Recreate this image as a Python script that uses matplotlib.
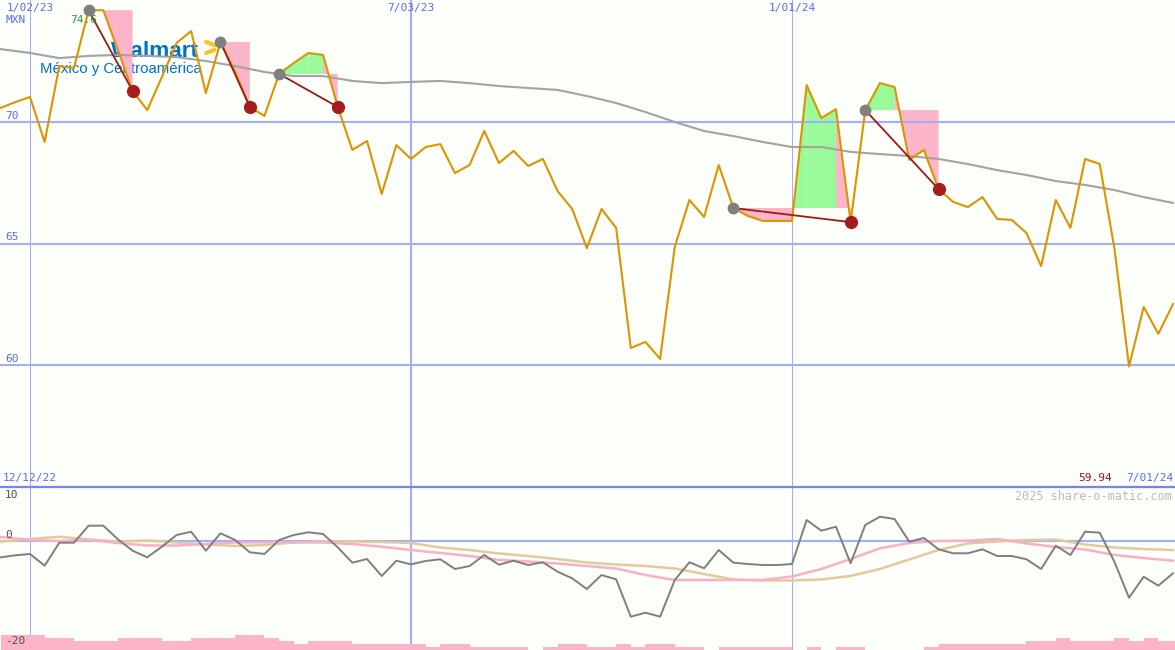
import matplotlib

matplotlib.use("Agg")

import matplotlib.dates as mdates  # noqa: E402
import matplotlib.pyplot as plt  # noqa: E402
import matplotlib.transforms as mtransforms  # noqa: E402
import numpy as np  # noqa: E402
import pandas as pd  # noqa: E402
from matplotlib.lines import Line2D  # noqa: E402

# weekly closes, 12/19/22 .. 7/01/24 (MXN)
dates = pd.date_range("2022-12-19", periods=81, freq="7D")
price = [
    70.58, 70.82, 71.03, 69.18, 72.30, 72.22, 74.60, 74.60, 72.96, 71.28,
    70.49, 71.85, 73.25, 73.74, 71.19, 73.29, 72.06, 70.62, 70.25, 71.98,
    72.43, 72.84, 72.76, 70.62, 68.85, 69.22, 67.04, 69.05, 68.48, 68.97,
    69.09, 67.90, 68.23, 69.63, 68.31, 68.81, 68.19, 68.48, 67.16, 66.42,
    64.81, 66.42, 65.64, 60.70, 60.95, 60.25, 64.86, 66.79, 66.09, 68.23,
    66.46, 66.13, 65.93, 65.93, 65.93, 71.52, 70.16, 70.53, 65.88, 70.49,
    71.60, 71.44, 68.44, 68.85, 67.24, 66.71, 66.50, 66.91, 66.01, 65.97,
    65.43, 64.07, 66.79, 65.64, 68.48, 68.27, 64.81, 59.94, 62.39, 61.28,
    62.51,
]
# long moving average, every second week
ma = [
    73.00, 72.84, 72.63, 72.72, 72.76, 72.72, 72.67, 72.51, 72.30, 72.06,
    71.89, 71.89, 71.69, 71.60, 71.65, 71.69, 71.60, 71.48, 71.40, 71.32,
    71.07, 70.78, 70.41, 70.00, 69.63, 69.42, 69.18, 68.97, 68.97, 68.77,
    68.68, 68.60, 68.48, 68.27, 68.02, 67.82, 67.57, 67.41, 67.20, 66.91,
    66.67,
]
# (buy index, sell index) into price
trades = [(6, 9), (15, 17), (19, 23), (50, 58), (59, 64)]

# lower panel: oscillator (weekly) and two smoothed lines (every second week)
osc = [
    -3.08, -2.70, -2.45, -4.66, -0.32, -0.32, 2.89, 2.89, 0.32, -1.83,
    -3.08, -1.08, 1.13, 1.75, -1.83, 1.45, 0.19, -2.13, -2.45, 0.19,
    1.13, 1.64, 1.32, -1.19, -4.09, -3.40, -6.60, -3.72, -4.40, -3.77,
    -3.45, -5.28, -4.72, -2.64, -4.47, -3.72, -4.53, -4.02, -5.79, -7.04,
    -9.06, -6.42, -7.23, -14.28, -13.53, -14.28, -7.36, -4.02, -5.15, -1.70,
    -4.09, -4.34, -4.53, -4.53, -4.34, 3.96, 1.94, 2.70, -4.21, 3.02,
    4.58, 4.15, -0.13, 0.57, -1.57, -2.32, -2.32, -1.57, -2.83, -2.83,
    -3.45, -5.28, -0.89, -2.64, 1.75, 1.57, -3.91, -10.70, -6.74, -8.43,
    -6.09,
]
osc_pink = [
    0.75, 0.19, 0.00, 0.19, -0.38, -0.85, -0.85, -0.57, -0.28, -0.25,
    -0.25, -0.28, -0.57, -1.08, -1.70, -2.26, -2.83, -3.58, -3.87, -4.25,
    -4.72, -5.19, -6.42, -7.36, -7.36, -7.36, -7.36, -6.70, -5.28, -3.40,
    -1.38, -0.38, 0.00, 0.06, 0.38, -0.45, -1.13, -1.60, -2.64, -3.21,
    -3.72,
]
osc_tan = [
    -0.13, 0.38, 0.81, 0.28, -0.09, 0.09, -0.28, -0.66, -0.94, -0.75,
    -0.28, -0.09, -0.09, -0.19, -0.38, -1.23, -1.70, -2.36, -2.83, -3.40,
    -4.06, -4.43, -4.72, -5.19, -6.23, -7.26, -7.45, -7.45, -7.26, -6.60,
    -5.28, -3.49, -1.70, -0.47, -0.09, 0.19, 0.28, -0.66, -1.23, -1.51,
    -1.70,
]
# relative weekly volume (0..5)
vol_level = [
    5, 5, 5, 4, 4, 3, 3, 3, 4, 4, 4, 3, 3, 4, 4, 4, 5, 5, 4, 3,
    2, 3, 3, 3, 2, 2, 2, 2, 2, 1, 2, 2, 1, 1, 1, 1, 0, 1, 2, 2,
    1, 1, 2, 1, 2, 2, 1, 1, 0, 1, 1, 1, 1, 1, 0, 1, 0, 1, 1, 0,
    0, 0, 0, 1, 2, 2, 2, 2, 2, 2, 3, 3, 4, 3, 3, 3, 4, 3, 4, 3,
    3,
]

grid_dates = ["2023-01-02", "2023-07-03", "2024-01-01"]
grid_labels = ["1/02/23", "7/03/23", "1/01/24"]
grid_widths = [0.75, 1.5, 0.75]
price_ticks = [60, 65, 70]
osc_labels = [("10", 495), ("0", 535), ("-20", 641)]

W, H = 1175, 650
BG = "#fcfefa"
GRID = "#a3aff5"
PINK = "#fbb4c8"
GREEN = "#98fb98"
BLUE_TXT = "#5a6cf0"
MONO = "DejaVu Sans Mono"

x = mdates.date2num(dates.to_pydatetime())
x_ma = x[::2]
x0 = mdates.date2num(pd.Timestamp("2023-01-02").to_pydatetime())
px_per_day = 381 / 182
xlim = (x0 - 30 / px_per_day, x0 + (W - 30) / px_per_day)

fig = plt.figure(figsize=(W / 100, H / 100), dpi=100, facecolor=BG)
ax = fig.add_axes([0, 163 / H, 1, 487 / H])
ax2 = fig.add_axes([0, 0, 1, 162 / H])
for a in (ax, ax2):
    a.set_axis_off()
    a.set_xlim(*xlim)
ax.set_ylim(70 - 365 / 24.3, 70 + 122 / 24.3)
ax2.set_ylim(-109 / 5.3, 53 / 5.3)


def main_xy(px, py):
    return px / W, 1 - py / 487


def low_xy(px, py):
    return px / W, (H - py) / 162


# logo behind everything (only the left half of the spark shows)
ax.text(*main_xy(111, 57), "Walmart", transform=ax.transAxes, family="Liberation Sans",
        fontweight="bold", fontsize=16.2, color="#0071ce", va="baseline", zorder=1)
ax.text(*main_xy(40, 73), "México y Centroamérica", transform=ax.transAxes,
        family="Liberation Sans", fontsize=10.8, color="#0071ce", va="baseline", zorder=1)
cx, cy = 220, 47.5
for ang in np.deg2rad([158, 202]):
    p1 = main_xy(cx + 6 * np.cos(ang), cy - 6 * np.sin(ang))
    p2 = main_xy(cx + 15 * np.cos(ang), cy - 15 * np.sin(ang))
    ax.plot([p1[0], p2[0]], [p1[1], p2[1]], transform=ax.transAxes, color="#ffc220",
            lw=3.0, solid_capstyle="round", zorder=1)

# trade shading, one quad per week between entry level and price
for buy, sell in trades:
    level = price[buy]
    for i in range(buy, sell):
        p_a, p_b = price[i], price[i + 1]
        if p_a == level and p_b == level:
            continue
        color = GREEN if p_b > level else PINK
        ax.fill([x[i], x[i], x[i + 1], x[i + 1]], [level, p_a, p_b, level],
                color=color, lw=0, zorder=2)

# grid
for d, w in zip(grid_dates, grid_widths):
    xd = mdates.date2num(pd.Timestamp(d).to_pydatetime())
    ax.axvline(xd, color=GRID, lw=w, zorder=2.5)
    ax2.axvline(xd, color=GRID, lw=w, zorder=1)
for v in price_ticks:
    ax.axhline(v, color=GRID, lw=1.5, zorder=2.5)

ax.plot(x_ma, ma, color="#a3a3a3", lw=1.5, zorder=3)
ax.plot(x, price, color="#dc9400", lw=1.5, zorder=4)

for buy, sell in trades:
    ax.plot([x[buy], x[sell]], [price[buy], price[sell]], color="#a01818", lw=1.3, zorder=5)
    ax.plot(x[buy], price[buy], "o", ms=8.5, color="#808080", mec="none", zorder=6)
    ax.plot(x[sell], price[sell], "o", ms=9.5, color="#a51c1c", mec="none", zorder=6)

# main panel labels
blend = mtransforms.blended_transform_factory(ax.transAxes, ax.transData)
for v in price_ticks:
    ax.text(5 / W, v + 0.06, str(v), transform=blend, family=MONO, fontsize=8,
            color=BLUE_TXT, ha="left", va="bottom", zorder=7)
for d, lab in zip(grid_dates, grid_labels):
    xd = mdates.date2num(pd.Timestamp(d).to_pydatetime())
    ax.text(xd, 0.983, lab, transform=mtransforms.blended_transform_factory(ax.transData, ax.transAxes),
            family=MONO, fontsize=8, color=BLUE_TXT, ha="center", va="center", zorder=7)
ax.text(*main_xy(5, 20), "MXN", transform=ax.transAxes, family=MONO, fontsize=8,
        color=BLUE_TXT, ha="left", va="center", zorder=7)
ax.text(*main_xy(84, 20), f"{max(price):.1f}", transform=ax.transAxes, family=MONO, fontsize=8,
        color="#2f9a2f", ha="center", va="center", zorder=7)
ax.text(*main_xy(3, 478), "12/12/22", transform=ax.transAxes, family=MONO, fontsize=8,
        color=BLUE_TXT, ha="left", va="center", zorder=7)
ax.text(*main_xy(1112, 478), f"{min(price):.2f}", transform=ax.transAxes, family=MONO,
        fontsize=8, color="#a01010", ha="right", va="center", zorder=7)
ax.text(*main_xy(1173, 478), "7/01/24", transform=ax.transAxes, family=MONO, fontsize=8,
        color=BLUE_TXT, ha="right", va="center", zorder=7)

# separator between panels
fig.add_artist(Line2D([0, 1], [(H - 487) / H] * 2, transform=fig.transFigure,
                      color="#7484f0", lw=1.6))

# lower panel
ybot = ax2.get_ylim()[0]
heights = [lv * 3 / 5.3 for lv in vol_level]
ax2.bar(x, heights, width=7, align="edge", bottom=ybot, color=PINK, lw=0, zorder=1)
ax2.axhline(0, color=GRID, lw=1.5, zorder=2)
ax2.plot(x_ma, osc_tan, color="#e2cb9a", lw=1.8, zorder=3)
ax2.plot(x_ma, osc_pink, color="#f9b0c6", lw=1.8, zorder=3)
ax2.plot(x, osc, color="#7f7f7f", lw=1.4, zorder=4)
for lab, py in osc_labels:
    ax2.text(*low_xy(5, py), lab, transform=ax2.transAxes, family=MONO, fontsize=8,
             color="#505050", ha="left", va="center", zorder=5)
ax2.text(*low_xy(1172, 496), "2025 share-o-matic.com", transform=ax2.transAxes, family=MONO,
         fontsize=8.5, color="#bdbdbd", ha="right", va="center", zorder=5)

fig.savefig("out.png", dpi=100, facecolor=BG)
plt.close(fig)
